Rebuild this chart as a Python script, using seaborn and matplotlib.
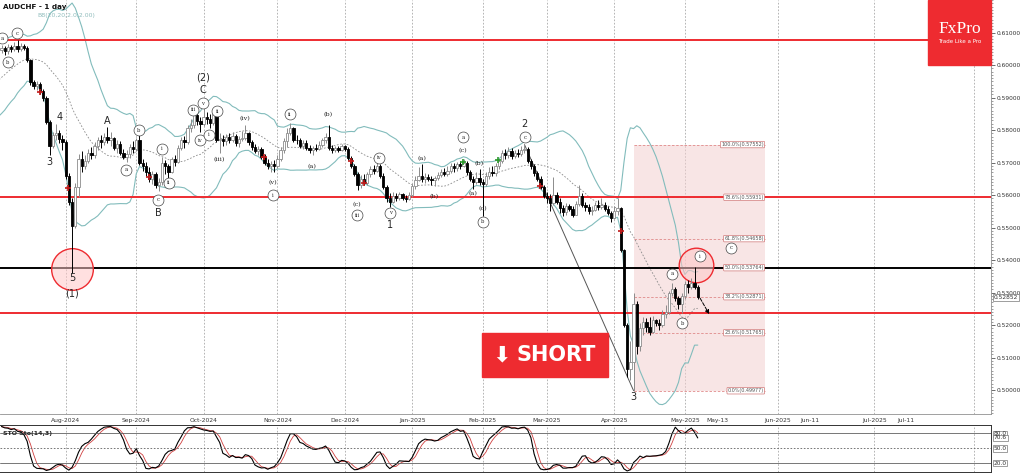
import numpy as np
import pandas as pd
import matplotlib
matplotlib.use("Agg")
import matplotlib.pyplot as plt
from matplotlib.patches import Rectangle
from matplotlib.ticker import MultipleLocator, FormatStrFormatter
import seaborn as sns

# ---- AUDCHF daily, values ----
# a few June bars before the visible window, only used to warm up BB / stochastic
hist_close = [0.5862, 0.5875, 0.5868, 0.5890, 0.5905, 0.5898, 0.5921, 0.5940, 0.5932, 0.5955,
              0.5968, 0.5960, 0.5978, 0.5992, 0.5985, 0.6005, 0.6020, 0.6012, 0.6035, 0.6045]
hist_high = [0.5878, 0.5885, 0.5882, 0.5898, 0.5915, 0.5912, 0.5928, 0.5948, 0.5945, 0.5962,
             0.5975, 0.5972, 0.5985, 0.6000, 0.5998, 0.6012, 0.6028, 0.6025, 0.6042, 0.6055]
hist_low = [0.5850, 0.5858, 0.5860, 0.5865, 0.5885, 0.5890, 0.5895, 0.5918, 0.5925, 0.5930,
            0.5950, 0.5955, 0.5958, 0.5975, 0.5978, 0.5982, 0.6000, 0.6005, 0.6010, 0.6028]

closes = [0.6052, 0.6043, 0.6055, 0.6048, 0.6060, 0.6050, 0.6058, 0.6052, 0.6015, 0.5948,
          0.5935, 0.5942, 0.5920, 0.5900, 0.5825, 0.5752, 0.5785, 0.5790, 0.5772, 0.5762,
          0.5660, 0.5580, 0.5505, 0.5625, 0.5712, 0.5690, 0.5705, 0.5730, 0.5722, 0.5750,
          0.5768, 0.5762, 0.5780, 0.5770, 0.5775, 0.5745, 0.5758, 0.5730, 0.5718, 0.5725,
          0.5748, 0.5742, 0.5768, 0.5700, 0.5688, 0.5672, 0.5648, 0.5665, 0.5630, 0.5640,
          0.5700, 0.5688, 0.5672, 0.5710, 0.5702, 0.5745, 0.5768, 0.5762, 0.5805, 0.5815,
          0.5845, 0.5828, 0.5820, 0.5840, 0.5835, 0.5822, 0.5850, 0.5770, 0.5772, 0.5765,
          0.5778, 0.5770, 0.5782, 0.5760, 0.5772, 0.5775, 0.5790, 0.5762, 0.5748, 0.5735,
          0.5742, 0.5718, 0.5700, 0.5688, 0.5695, 0.5690, 0.5712, 0.5738, 0.5765, 0.5790,
          0.5805, 0.5770, 0.5768, 0.5752, 0.5760, 0.5745, 0.5738, 0.5745, 0.5742, 0.5755,
          0.5768, 0.5780, 0.5745, 0.5738, 0.5745, 0.5740, 0.5750, 0.5742, 0.5715, 0.5690,
          0.5665, 0.5630, 0.5648, 0.5638, 0.5665, 0.5680, 0.5675, 0.5690, 0.5660, 0.5625,
          0.5592, 0.5580, 0.5598, 0.5590, 0.5602, 0.5592, 0.5588, 0.5600, 0.5628, 0.5645,
          0.5660, 0.5648, 0.5655, 0.5650, 0.5645, 0.5652, 0.5662, 0.5670, 0.5665, 0.5675,
          0.5690, 0.5682, 0.5695, 0.5688, 0.5700, 0.5670, 0.5650, 0.5640, 0.5652, 0.5640,
          0.5635, 0.5660, 0.5672, 0.5668, 0.5690, 0.5705, 0.5728, 0.5722, 0.5735, 0.5720,
          0.5730, 0.5725, 0.5738, 0.5742, 0.5705, 0.5688, 0.5668, 0.5650, 0.5625, 0.5598,
          0.5590, 0.5575, 0.5600, 0.5580, 0.5560, 0.5548, 0.5565, 0.5558, 0.5540, 0.5572,
          0.5598, 0.5570, 0.5562, 0.5550, 0.5555, 0.5568, 0.5562, 0.5570, 0.5558, 0.5545,
          0.5530, 0.5552, 0.5560, 0.5432, 0.5200, 0.5065, 0.5085, 0.5265, 0.5135, 0.5190,
          0.5208, 0.5195, 0.5180, 0.5215, 0.5205, 0.5200, 0.5235, 0.5240, 0.5298, 0.5312,
          0.5282, 0.5265, 0.5288, 0.5325, 0.5318, 0.5330, 0.5318, 0.5285]

highs = [0.6062, 0.6060, 0.6066, 0.6062, 0.6070, 0.6078, 0.6068, 0.6066, 0.6058, 0.6020,
         0.5955, 0.5952, 0.5948, 0.5925, 0.5905, 0.5830, 0.5795, 0.5818, 0.5800, 0.5785,
         0.5768, 0.5668, 0.5590, 0.5638, 0.5725, 0.5735, 0.5722, 0.5742, 0.5748, 0.5762,
         0.5778, 0.5785, 0.5792, 0.5808, 0.5795, 0.5780, 0.5770, 0.5765, 0.5742, 0.5740,
         0.5758, 0.5765, 0.5775, 0.5785, 0.5712, 0.5702, 0.5685, 0.5675, 0.5670, 0.5652,
         0.5718, 0.5708, 0.5695, 0.5718, 0.5722, 0.5755, 0.5780, 0.5782, 0.5815, 0.5835,
         0.5858, 0.5852, 0.5840, 0.5868, 0.5855, 0.5848, 0.5860, 0.5862, 0.5790, 0.5785,
         0.5788, 0.5790, 0.5795, 0.5788, 0.5782, 0.5798, 0.5815, 0.5795, 0.5770, 0.5758,
         0.5752, 0.5748, 0.5725, 0.5710, 0.5705, 0.5708, 0.5722, 0.5748, 0.5775, 0.5805,
         0.5822, 0.5810, 0.5785, 0.5775, 0.5770, 0.5768, 0.5755, 0.5752, 0.5758, 0.5765,
         0.5775, 0.5790, 0.5815, 0.5755, 0.5752, 0.5752, 0.5758, 0.5755, 0.5748, 0.5720,
         0.5695, 0.5670, 0.5662, 0.5665, 0.5672, 0.5690, 0.5692, 0.5702, 0.5695, 0.5668,
         0.5630, 0.5605, 0.5608, 0.5605, 0.5610, 0.5606, 0.5600, 0.5608, 0.5635, 0.5660,
         0.5685, 0.5695, 0.5668, 0.5665, 0.5660, 0.5660, 0.5672, 0.5680, 0.5682, 0.5688,
         0.5698, 0.5700, 0.5702, 0.5705, 0.5712, 0.5705, 0.5678, 0.5660, 0.5672, 0.5680,
         0.5650, 0.5672, 0.5685, 0.5690, 0.5700, 0.5712, 0.5738, 0.5742, 0.5748, 0.5745,
         0.5740, 0.5742, 0.5750, 0.5755, 0.5748, 0.5712, 0.5695, 0.5675, 0.5658, 0.5630,
         0.5610, 0.5602, 0.5655, 0.5608, 0.5592, 0.5570, 0.5575, 0.5572, 0.5565, 0.5582,
         0.5632, 0.5605, 0.5580, 0.5572, 0.5565, 0.5580, 0.5585, 0.5590, 0.5578, 0.5565,
         0.5552, 0.5565, 0.5590, 0.5562, 0.5435, 0.5205, 0.5150, 0.5300, 0.5275, 0.5205,
         0.5225, 0.5222, 0.5225, 0.5228, 0.5220, 0.5218, 0.5245, 0.5262, 0.5305, 0.5330,
         0.5318, 0.5290, 0.5298, 0.5335, 0.5340, 0.5345, 0.5378, 0.5322]

lows = [0.6038, 0.6030, 0.6035, 0.6040, 0.6042, 0.6040, 0.6044, 0.6045, 0.6010, 0.5940,
        0.5925, 0.5922, 0.5912, 0.5890, 0.5818, 0.5722, 0.5745, 0.5770, 0.5760, 0.5740,
        0.5650, 0.5570, 0.5360, 0.5498, 0.5595, 0.5672, 0.5680, 0.5698, 0.5710, 0.5715,
        0.5738, 0.5745, 0.5755, 0.5760, 0.5752, 0.5738, 0.5728, 0.5722, 0.5710, 0.5702,
        0.5715, 0.5728, 0.5735, 0.5692, 0.5675, 0.5660, 0.5640, 0.5635, 0.5622, 0.5612,
        0.5632, 0.5665, 0.5652, 0.5668, 0.5690, 0.5698, 0.5740, 0.5745, 0.5758, 0.5795,
        0.5805, 0.5815, 0.5795, 0.5812, 0.5818, 0.5805, 0.5815, 0.5762, 0.5728, 0.5752,
        0.5755, 0.5760, 0.5762, 0.5752, 0.5748, 0.5765, 0.5770, 0.5755, 0.5738, 0.5728,
        0.5722, 0.5710, 0.5692, 0.5680, 0.5672, 0.5670, 0.5684, 0.5705, 0.5730, 0.5748,
        0.5785, 0.5762, 0.5758, 0.5745, 0.5742, 0.5738, 0.5728, 0.5722, 0.5735, 0.5738,
        0.5748, 0.5760, 0.5740, 0.5730, 0.5732, 0.5733, 0.5736, 0.5735, 0.5708, 0.5682,
        0.5658, 0.5615, 0.5622, 0.5630, 0.5632, 0.5655, 0.5665, 0.5670, 0.5652, 0.5618,
        0.5580, 0.5562, 0.5575, 0.5582, 0.5585, 0.5586, 0.5580, 0.5584, 0.5595, 0.5620,
        0.5642, 0.5640, 0.5638, 0.5642, 0.5632, 0.5628, 0.5645, 0.5655, 0.5658, 0.5660,
        0.5668, 0.5672, 0.5675, 0.5680, 0.5685, 0.5662, 0.5642, 0.5618, 0.5635, 0.5632,
        0.5535, 0.5628, 0.5650, 0.5658, 0.5660, 0.5680, 0.5698, 0.5710, 0.5715, 0.5712,
        0.5715, 0.5718, 0.5720, 0.5728, 0.5698, 0.5680, 0.5660, 0.5642, 0.5618, 0.5590,
        0.5575, 0.5552, 0.5568, 0.5572, 0.5545, 0.5535, 0.5540, 0.5550, 0.5532, 0.5538,
        0.5565, 0.5562, 0.5552, 0.5542, 0.5540, 0.5550, 0.5555, 0.5558, 0.5550, 0.5538,
        0.5518, 0.5525, 0.5540, 0.5425, 0.5195, 0.5040, 0.5030, 0.4998, 0.5110, 0.5120,
        0.5170, 0.5180, 0.5170, 0.5175, 0.5198, 0.5185, 0.5195, 0.5222, 0.5235, 0.5290,
        0.5275, 0.5248, 0.5238, 0.5280, 0.5300, 0.5310, 0.5312, 0.5280]

red_levels = [0.6078, 0.5595, 0.5237]
black_level = 0.5376
last_price = 0.52852

fib_pct = ["100.0%", "78.6%", "61.8%", "50.0%", "38.2%", "23.6%", "0.0%"]
fib_val = [0.57552, 0.55931, 0.54658, 0.53764, 0.52871, 0.51765, 0.49977]

# red / green signal crosses (bar, price)
red_x = [12, 20.7, 46, 81.8, 108.9, 113, 167.8, 193]
red_y = [0.5917, 0.5622, 0.5655, 0.5717, 0.5705, 0.5637, 0.5628, 0.5489]
green_x = [143.8, 154.7]
green_y = [0.5702, 0.5708]

# elliott wave labels: circled ones, small parenthesised ones, big ones
circled = [("a", 0.2, 0.6083), ("c", 4.8, 0.6098), ("b", 2.0, 0.6009),
           ("a", 38.8, 0.5677), ("b", 42.8, 0.5800), ("c", 48.8, 0.5585),
           ("i", 50.0, 0.5742), ("ii", 52.2, 0.5637), ("iii", 59.7, 0.5862),
           ("iv", 61.9, 0.5769), ("v", 62.8, 0.5883), ("i", 64.7, 0.5785),
           ("ii", 67.2, 0.5858), ("i", 84.6, 0.5600), ("ii", 89.9, 0.5849),
           ("iii", 110.8, 0.5538), ("iv", 117.6, 0.5714), ("v", 121.1, 0.5545),
           ("a", 143.8, 0.5778), ("b", 150.0, 0.5517), ("c", 163.1, 0.5778),
           ("a", 209.0, 0.5357), ("b", 212.1, 0.5206), ("i", 217.7, 0.5412),
           ("c", 227.3, 0.5437)]
paren = [("(iii)", 67.8, 0.5708), ("(iv)", 75.9, 0.5834), ("(v)", 84.6, 0.5637),
         ("(a)", 96.8, 0.5689), ("(b)", 101.7, 0.5849), ("(c)", 110.8, 0.5572),
         ("(a)", 131.0, 0.5711), ("(b)", 134.8, 0.5594), ("(c)", 143.8, 0.5738),
         ("(b)", 148.8, 0.5698), ("(a)", 146.9, 0.5606), ("(c)", 150.0, 0.5557)]
big = [("4", 18.2, 0.5840), ("3", 14.8, 0.5702), ("A", 32.9, 0.5828), ("B", 48.8, 0.5545),
       ("C", 62.8, 0.5923), ("(2)", 62.8, 0.5963), ("5", 22.0, 0.5345), ("(1)", 22.0, 0.5298),
       ("1", 121.1, 0.5508), ("2", 163.1, 0.5818), ("3", 196.8, 0.4978)]

# ---- derived frames / indicators ----
n = len(closes)
holidays = pd.to_datetime(["2024-12-25", "2025-01-01"])
bar_dates = pd.bdate_range("2024-07-04", "2025-05-07")
bar_dates = bar_dates[~bar_dates.isin(holidays)]
assert len(bar_dates) == n == len(highs) == len(lows)

opens = [hist_close[-1]] + closes[:-1]
df = pd.DataFrame({"i": np.arange(n), "o": opens, "h": highs, "l": lows, "c": closes})

full = pd.DataFrame({"i": np.arange(-len(hist_close), n),
                     "c": hist_close + closes, "h": hist_high + highs, "l": hist_low + lows})
full["mid"] = full.c.rolling(20).mean()
sd = full.c.rolling(20).std(ddof=0)
full["up"] = full.mid + 2 * sd
full["dn"] = full.mid - 2 * sd
ll = full.l.rolling(14).min()
hh = full.h.rolling(14).max()
full["k"] = 100 * (full.c - ll).rolling(3).sum() / (hh - ll).rolling(3).sum()
full["d"] = full.k.rolling(3).mean()

# month ticks (first bar of each month), then calendar days into the future
pos = pd.Series(np.arange(n), index=bar_dates)
firsts = pos.groupby([bar_dates.year, bar_dates.month]).first().iloc[1:]
tick_pos = list(firsts.values)
tick_lab = [bar_dates[p].strftime("%b-%Y") for p in tick_pos]
grid_pos = list(tick_pos)
last_date = bar_dates[-1]
for d, lab, is_month in [("2025-05-13", "May-13", False), ("2025-06-01", "Jun-2025", True),
                         ("2025-06-11", "Jun-11", False), ("2025-07-01", "Jul-2025", True),
                         ("2025-07-11", "Jul-11", False), ("2025-08-01", "", True)]:
    p = n - 1 + (pd.Timestamp(d) - last_date).days
    if lab:
        tick_pos.append(p)
        tick_lab.append(lab)
    if is_month:
        grid_pos.append(p)

# ---- figure ----
sns.set_style("white")
plt.rcParams["font.family"] = ["DejaVu Sans"]
W, H = 1024, 474
fig = plt.figure(figsize=(W / 100, H / 100), dpi=100)
ax = fig.add_axes([0, 1 - 414 / H, 991 / W, 414 / H])
ax2 = fig.add_axes([0, 1 - 471.7 / H, 991 / W, 46.7 / H])
xlim = (-0.47, 308.4)

teal = "#82bcbc"
red = "#ee2b30"

for a in (ax, ax2):
    for p in grid_pos:
        a.axvline(p, color="#a8a8a8", lw=0.6, ls=(0, (2, 2)), zorder=0)
    a.set_xlim(*xlim)

# fibonacci box
fib_l, fib_r = 197, 238
ax.fill_between([fib_l, fib_r], fib_val[-1], fib_val[0], color="#f4d0d0", alpha=0.55, lw=0, zorder=0.5)
ax.hlines(fib_val, fib_l, fib_r, colors="#e08a8a", linestyles=(0, (3, 2)), lw=0.6, zorder=0.6)
for pct, v in zip(fib_pct, fib_val):
    ax.text(fib_r - 0.4, v, f"{pct}({v:.5f})", ha="right", va="center", fontsize=3.5, color="#555555",
            bbox=dict(boxstyle="round,pad=0.15", fc="white", ec="#d07878", lw=0.5), zorder=6)

# horizontal levels
for lv in red_levels:
    ax.axhline(lv, color=red, lw=1.4, zorder=3)
ax.axhline(black_level, color="black", lw=1.4, zorder=3)

# bollinger bands
sns.lineplot(data=full, x="i", y="up", ax=ax, color=teal, lw=0.8, zorder=1)
sns.lineplot(data=full, x="i", y="dn", ax=ax, color=teal, lw=0.8, zorder=1)
sns.lineplot(data=full, x="i", y="mid", ax=ax, color="#8a8a8a", lw=0.6, ls=(0, (2, 2)), zorder=1)

# wave 2 -> wave 3 line
ax.plot([163, 197], [highs[163], lows[197]], color="#555555", lw=0.7, zorder=2)

# candles
up = df.c >= df.o
ax.vlines(df.i[up], df.l[up], df.h[up], color="#8c8c8c", lw=0.7, zorder=4)
ax.vlines(df.i[~up], df.l[~up], df.h[~up], color="black", lw=0.7, zorder=4)
ax.bar(df.i[up], (df.c - df.o)[up], bottom=df.o[up], width=0.72, color="white",
       edgecolor="#8c8c8c", linewidth=0.6, zorder=4.5)
ax.bar(df.i[~up], (df.o - df.c)[~up], bottom=df.c[~up], width=0.72, color="black",
       edgecolor="black", linewidth=0.6, zorder=4.5)

# signal crosses
ax.scatter(red_x, red_y, marker="+", s=22, color="#c01818", lw=1.2, zorder=5)
ax.scatter(green_x, green_y, marker="+", s=22, color="#2c9a2c", lw=1.2, zorder=5)

# highlighted circles
ax.scatter([22], [0.5372], s=900, fc=(1, 0.78, 0.78, 0.55), ec=red, lw=1.0, zorder=3.5)
ax.scatter([216.4], [0.5385], s=620, fc=(1, 0.78, 0.78, 0.55), ec=red, lw=1.0, zorder=3.5)

# wave labels
for t, x, y in circled:
    ax.scatter([x], [y], s=62, fc="white", ec="#444444", lw=0.5, zorder=6)
    ax.text(x, y, t, ha="center", va="center", fontsize=3.8, family="DejaVu Serif", zorder=7)
for t, x, y in paren:
    ax.text(x, y, t, ha="center", va="center", fontsize=4.6, family="DejaVu Serif", zorder=7)
for t, x, y in big:
    ax.text(x, y, t, ha="center", va="center", fontsize=7, zorder=7)

# projected move arrow
ax.annotate("", xy=(221, 0.5226), xytext=(217.3, 0.5290),
            arrowprops=dict(arrowstyle="-|>", ls="--", color="black", lw=0.7, mutation_scale=6), zorder=7)

ax.set_ylim(0.49262, 0.62)
ax.yaxis.tick_right()
ax.set_yticks(np.arange(0.50, 0.6101, 0.01))
ax.yaxis.set_major_formatter(FormatStrFormatter("%.5f"))
ax.yaxis.set_minor_locator(MultipleLocator(0.001))
ax.tick_params(axis="y", which="major", labelsize=4.2, length=3, width=0.5, pad=1, colors="#333333")
ax.tick_params(axis="y", which="minor", length=1.5, width=0.4, colors="#555555")
ax.set_xticks(tick_pos)
ax.set_xticklabels(tick_lab)
ax.tick_params(axis="x", labelsize=4.3, length=2, width=0.5, pad=1, colors="#333333")
ax.set_xlabel("")
ax.set_ylabel("")
for s in ax.spines.values():
    s.set_color("#909090")
    s.set_linewidth(0.6)
ax.spines["left"].set_visible(False)
ax.spines["top"].set_visible(False)

ax.text(1.003, last_price, f"{last_price:.5f}", transform=ax.get_yaxis_transform(), ha="left",
        va="center", fontsize=4.2, color="#333333",
        bbox=dict(boxstyle="square,pad=0.12", fc="white", ec="#777777", lw=0.5), zorder=8, clip_on=False)

# ---- stochastic panel ----
vis = full[full.i >= 0]
sns.lineplot(data=vis, x="i", y="d", ax=ax2, color="#d04040", lw=0.6)
sns.lineplot(data=vis, x="i", y="k", ax=ax2, color="black", lw=0.8)
for lv in (80, 20):
    ax2.axhline(lv, color="#606060", lw=0.6)
ax2.axhline(50, color="#606060", lw=0.6, ls=(0, (2, 2)))
ax2.set_ylim(1.6, 97)
ax2.yaxis.tick_right()
ax2.set_yticks([20, 50, 80])
ax2.set_yticklabels(["20.0", "50.0", "80.0"])
ax2.tick_params(axis="y", labelsize=4.2, length=0, pad=2, colors="#333333")
for lbl in ax2.get_yticklabels():
    lbl.set_bbox(dict(boxstyle="square,pad=0.1", fc="white", ec="#777777", lw=0.5))
ax2.text(1.003, vis.k.iloc[-1], f"{vis.k.iloc[-1]:.1f}", transform=ax2.get_yaxis_transform(),
         ha="left", va="center", fontsize=4.2, color="#333333", clip_on=False,
         bbox=dict(boxstyle="square,pad=0.1", fc="white", ec="#777777", lw=0.5))
ax2.set_xticks([])
ax2.set_xlabel("")
ax2.set_ylabel("")
for s in ax2.spines.values():
    s.set_color("#333333")
    s.set_linewidth(0.7)
ax2.spines["left"].set_visible(False)
ax2.text(0.003, 0.82, "STO Sto(14,3)", transform=ax2.transAxes, fontsize=4.5, color="#222222",
         va="center", fontweight="bold")

# ---- header texts, logo, SHORT button ----
fig.text(3 / W, 1 - 7 / H, "AUDCHF - 1 day", fontsize=5.2, fontweight="bold", va="center", color="#111111")
fig.text(37 / W, 1 - 16 / H, "BB(20,20,2.0,2.00)", fontsize=4.4, va="center", color="#8fbcbc")

fig.add_artist(Rectangle((928 / W, 1 - 65 / H), 63 / W, 65 / H, transform=fig.transFigure,
                         color=red, zorder=20))
fig.text(959.5 / W, 1 - 29 / H, "FxPro", ha="center", va="center", fontsize=12.5, color="white",
         family="Liberation Serif", zorder=21)
fig.text(959.5 / W, 1 - 41.5 / H, "Trade Like a Pro", ha="center", va="center", fontsize=4.0,
         color="white", zorder=21)

fig.add_artist(Rectangle((482 / W, 1 - 377 / H), 126 / W, 44 / H, transform=fig.transFigure,
                         color=red, zorder=20))
fig.text(502 / W, 1 - 355 / H, "⬇", ha="center", va="center", fontsize=16, color="white", zorder=21)
fig.text(556 / W, 1 - 355 / H, "SHORT", ha="center", va="center", fontsize=15, fontweight="bold",
         color="white", zorder=21)

fig.savefig("out.png", dpi=100)
